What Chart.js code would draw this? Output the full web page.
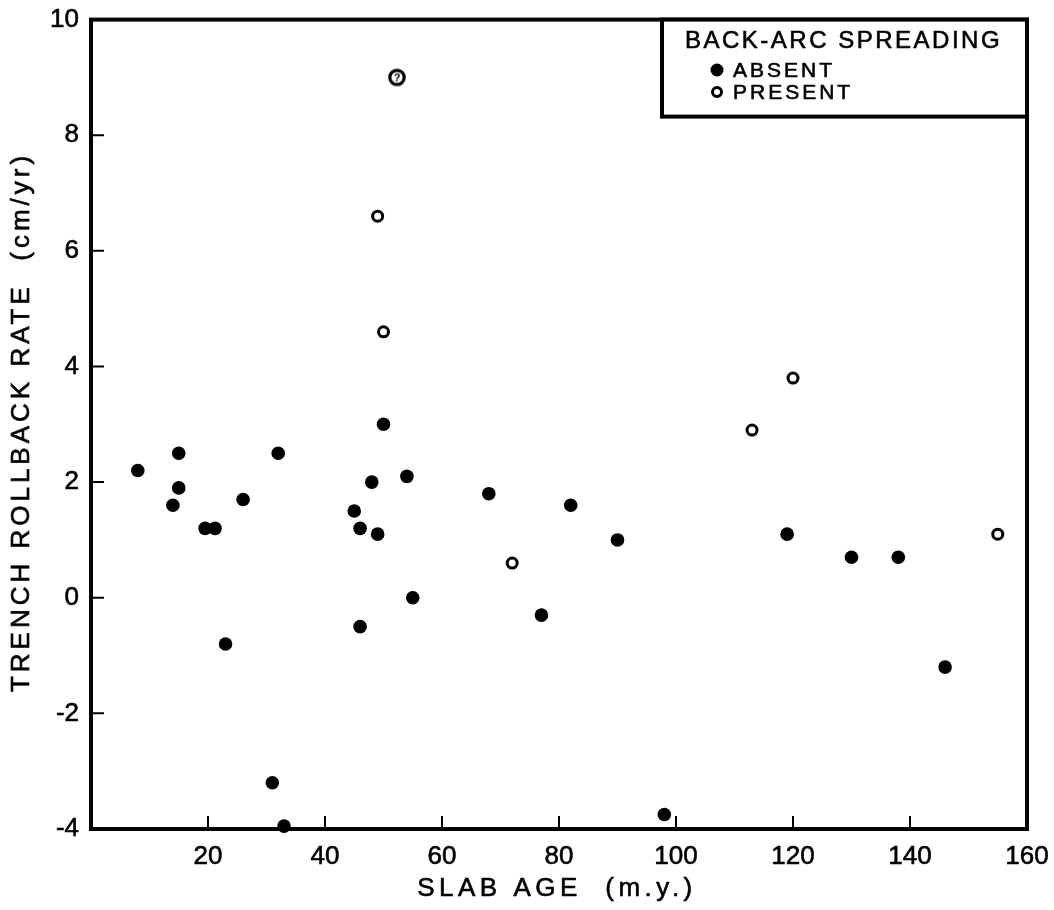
<!DOCTYPE html>
<html lang="en">
<head>
    <meta charset="UTF-8">
    <title>Trench rollback rate vs slab age</title>
    <script src="https://cdn.jsdelivr.net/npm/chart.js"></script>
    <style>
        body { margin: 0; background: #fff; }
        #wrap { width: 1054px; height: 910px; }
    </style>
</head>
<body>
    <div id="wrap"><canvas id="rollbackChart"></canvas></div>

    <script>
        // slab age (m.y.) / trench rollback rate (cm/yr)
        const absentAge  = [8, 14, 15, 15, 19.5, 21.2, 23, 26, 31, 32, 33, 45, 46, 46, 48, 49, 50, 54, 55, 68, 77, 82, 90, 98, 119, 130, 138, 146];
        const absentRate = [2.2, 1.6, 2.5, 1.9, 1.2, 1.2, -0.8, 1.7, -3.2, 2.5, -3.95, 1.5, 1.2, -0.5, 2.0, 1.1, 3.0, 2.1, 0, 1.8, -0.3, 1.6, 1.0, -3.75, 1.1, 0.7, 0.7, -1.2];
        const presentAge  = [49, 50, 72, 113, 120, 155];
        const presentRate = [6.6, 4.6, 0.6, 2.9, 3.8, 1.1];
        // the one marked with a "?" in the original
        const queriedAge  = [52.3];
        const queriedRate = [9.0];

        const xTicks = [20, 40, 60, 80, 100, 120, 140, 160];
        const yTicks = [10, 8, 6, 4, 2, 0, -2, -4];

        const FONT = '"Liberation Sans", Arial, sans-serif';

        const toPoints = (xs, ys) => xs.map((x, i) => ({ x: x, y: ys[i] }));

        // open circle with a question mark inside
        const qMark = document.createElement('canvas');
        qMark.width = 22; qMark.height = 22;
        (function () {
            const c = qMark.getContext('2d');
            c.strokeStyle = '#000';
            c.lineWidth = 3.2;
            c.beginPath();
            c.arc(11, 11, 7.2, 0, Math.PI * 2);
            c.stroke();
            c.fillStyle = '#000';
            c.font = 'bold 11px ' + FONT;
            c.textAlign = 'center';
            c.textBaseline = 'middle';
            c.fillText('?', 11, 12);
        })();

        function label(ctx, text, x, y, size, spacing) {
            ctx.font = size + 'px ' + FONT;
            ctx.letterSpacing = spacing + 'px';
            ctx.lineWidth = 0.6;
            ctx.fillText(text, x, y);
            ctx.strokeText(text, x, y);
        }

        // frame, inward ticks, axis titles and the boxed legend
        const framePlugin = {
            id: 'frame',
            afterDraw(chart) {
                const ctx = chart.ctx;
                const a = chart.chartArea;
                const xs = chart.scales.x, ys = chart.scales.y;
                ctx.save();
                ctx.strokeStyle = '#000';
                ctx.fillStyle = '#000';

                ctx.lineWidth = 2;
                ctx.beginPath();
                xTicks.forEach(v => {
                    if (v <= xs.min || v >= xs.max) return;
                    const px = xs.getPixelForValue(v);
                    ctx.moveTo(px, a.bottom);
                    ctx.lineTo(px, a.bottom - 13);
                });
                yTicks.forEach(v => {
                    if (v <= ys.min || v >= ys.max) return;
                    const py = ys.getPixelForValue(v);
                    ctx.moveTo(a.left, py);
                    ctx.lineTo(a.left + 13, py);
                });
                ctx.stroke();

                ctx.lineWidth = 4;
                ctx.strokeRect(a.left, a.top, a.right - a.left, a.bottom - a.top);

                // axis titles
                ctx.textBaseline = 'middle';
                ctx.textAlign = 'center';
                label(ctx, 'SLAB AGE  (m.y.)', 557, 889, 26, 4.5);
                ctx.save();
                ctx.translate(22, 422);
                ctx.rotate(-Math.PI / 2);
                label(ctx, 'TRENCH ROLLBACK RATE  (cm/yr)', 0, 0, 26, 4);
                ctx.restore();

                // legend box
                const lx = 662, ly = a.top, lw = a.right - lx, lh = 97;
                ctx.fillStyle = '#fff';
                ctx.fillRect(lx, ly, lw, lh);
                ctx.lineWidth = 4;
                ctx.strokeRect(lx, ly, lw, lh);

                ctx.fillStyle = '#000';
                ctx.textAlign = 'left';
                label(ctx, 'BACK-ARC SPREADING', 685, 41, 24, 2.5);
                label(ctx, 'ABSENT', 733, 71, 21, 3);
                label(ctx, 'PRESENT', 733, 93, 21, 3);

                ctx.letterSpacing = '0px';
                ctx.beginPath();
                ctx.arc(717, 70, 6.5, 0, Math.PI * 2);
                ctx.fill();
                ctx.lineWidth = 3;
                ctx.beginPath();
                ctx.arc(717, 92, 4.5, 0, Math.PI * 2);
                ctx.stroke();
                ctx.restore();
            }
        };

        const chart = new Chart(document.getElementById('rollbackChart'), {
            type: 'scatter',
            data: {
                datasets: [{
                    label: 'ABSENT',
                    data: toPoints(absentAge, absentRate),
                    pointStyle: 'circle',
                    pointRadius: 6.8,
                    backgroundColor: '#000',
                    borderColor: '#000',
                    borderWidth: 0,
                    clip: false
                }, {
                    label: 'PRESENT',
                    data: toPoints(presentAge, presentRate),
                    pointStyle: 'circle',
                    pointRadius: 5,
                    backgroundColor: '#fff',
                    borderColor: '#000',
                    borderWidth: 3,
                    clip: false
                }, {
                    label: 'PRESENT (?)',
                    data: toPoints(queriedAge, queriedRate),
                    pointStyle: qMark,
                    clip: false
                }]
            },
            options: {
                responsive: true,
                maintainAspectRatio: false,
                animation: false,
                layout: { padding: { top: 11, right: 27, left: 0, bottom: 0 } },
                plugins: {
                    legend: { display: false },
                    tooltip: { enabled: false }
                },
                scales: {
                    x: {
                        type: 'linear',
                        min: 0,
                        max: 160,
                        afterFit: s => { s.height = 81; },
                        afterBuildTicks: s => { s.ticks = xTicks.map(v => ({ value: v })); },
                        grid: { display: false },
                        border: { display: false },
                        ticks: {
                            color: '#000',
                            padding: 4,
                            maxRotation: 0,
                            textStrokeColor: '#000',
                            textStrokeWidth: 0.6,
                            font: { family: FONT, size: 26 }
                        }
                    },
                    y: {
                        min: -4,
                        max: 10,
                        afterFit: s => { s.width = 91; },
                        afterBuildTicks: s => { s.ticks = yTicks.map(v => ({ value: v })); },
                        grid: { display: false },
                        border: { display: false },
                        ticks: {
                            color: '#000',
                            padding: 4,
                            textStrokeColor: '#000',
                            textStrokeWidth: 0.6,
                            font: { family: FONT, size: 26 },
                            callback: v => String(v)
                        }
                    }
                }
            },
            plugins: [framePlugin]
        });
    </script>
</body>
</html>
